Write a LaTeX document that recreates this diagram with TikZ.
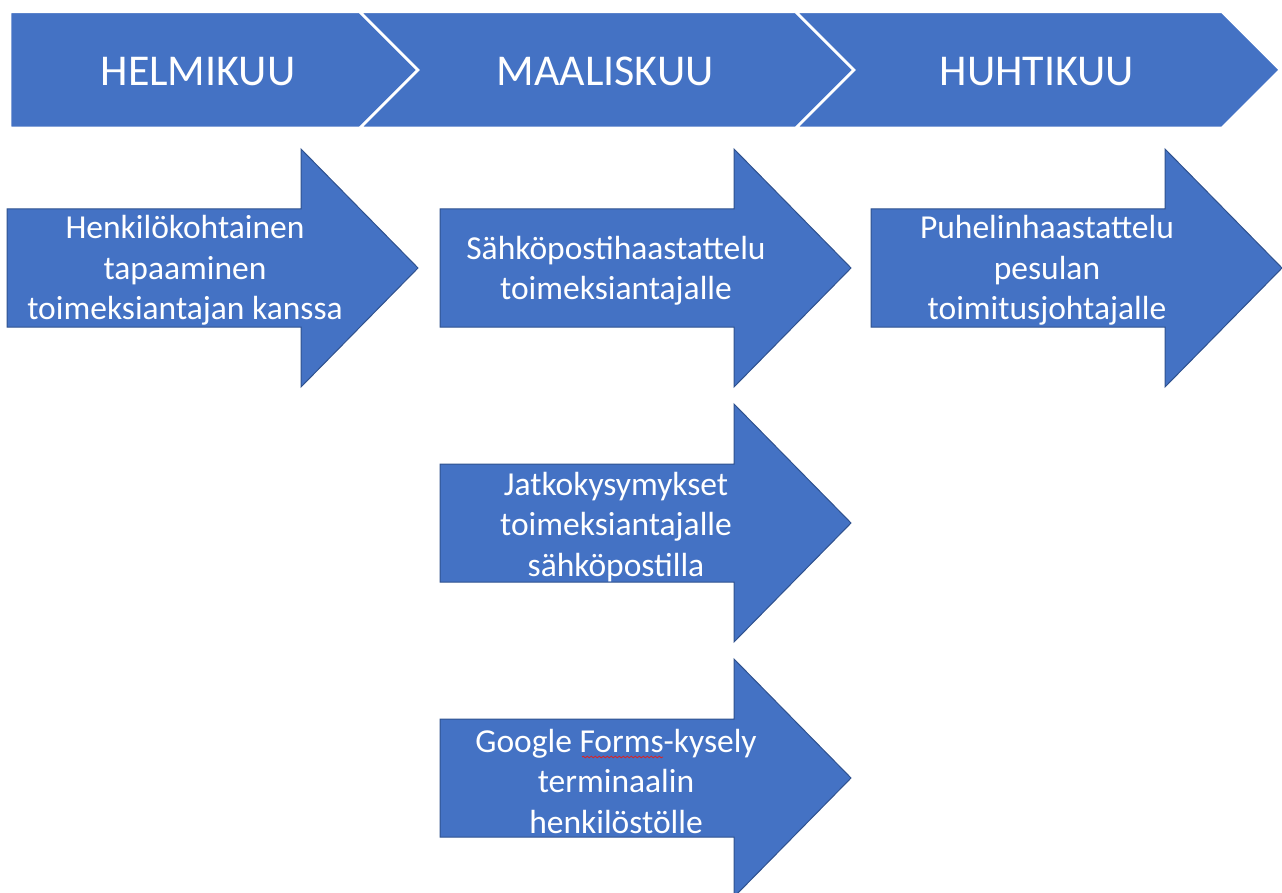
\documentclass[tikz,border=0pt]{standalone}
\usepackage{fontspec}
\setmainfont{Carlito}
\usetikzlibrary{decorations.pathmorphing}
\definecolor{accent}{HTML}{4472C4}
\definecolor{darkaccent}{HTML}{2F528F}
\definecolor{spellred}{HTML}{E02020}

\begin{document}
\begin{tikzpicture}[x=1pt,y=-1pt,
  month/.style={fill=accent,draw=white,line width=2.5pt,line join=miter},
  monthtext/.style={text=white,font=\fontsize{44}{52}\selectfont,anchor=base,inner sep=0pt},
  taskarrow/.style={fill=accent,draw=darkaccent,line width=1pt},
  tasktext/.style={text=white,align=center,font=\fontsize{33.5}{40.5}\selectfont,inner sep=0pt}]
\useasboundingbox (0,0) rectangle (1282,893);
\clip (0,0) rectangle (1282,893);
% month chevrons
\draw[month] (10,12) -- (360,12) -- (418,70) -- (360,128) -- (10,128) -- cycle;
\draw[month] (360,12) -- (796,12) -- (854,70) -- (796,128) -- (360,128) -- (418,70) -- cycle;
\draw[month] (796,12) -- (1222,12) -- (1280,70) -- (1222,128) -- (796,128) -- (854,70) -- cycle;
\node[monthtext] (feb) at (198,86) {HELMIKUU};
\node[monthtext] (mar) at (605,86) {MAALISKUU};
\node[monthtext] (apr) at (1037,86) {HUHTIKUU};
% task arrows
\foreach \x/\y in {7/209,440/209,871/209,440/464,440/719}
  \draw[taskarrow] (\x,\y) -- ++(294,0) -- ++(0,-60) -- ++(117,119) -- ++(-117,119) -- ++(0,-60) -- ++(-294,0) -- cycle;
\node[tasktext] (meet) at (185,270.5) {Henkilökohtainen\\tapaaminen\\toimeksiantajan kanssa};
\node[tasktext] (email) at (616,270.5) {Sähköpostihaastattelu\\toimeksiantajalle};
\node[tasktext] (phone) at (1047,270.5) {Puhelinhaastattelu\\pesulan\\toimitusjohtajalle};
\node[tasktext] (followup) at (616,527) {Jatkokysymykset\\toimeksiantajalle\\sähköpostilla};
\node[tasktext] (survey) at (616,781) {Google Forms-kysely\\terminaalin\\henkilöstölle};
% spell check mark
\draw[spellred,line width=0.8pt,decorate,decoration={snake,amplitude=0.8pt,segment length=4pt}] (582,757) -- (663,757);
\end{tikzpicture}
\end{document}
